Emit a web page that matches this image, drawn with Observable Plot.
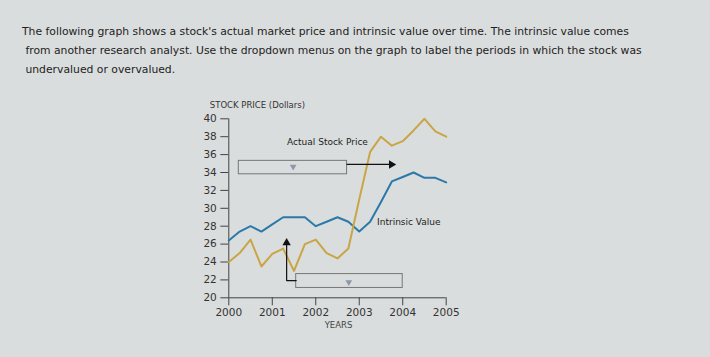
<!DOCTYPE html>
<html>
<head>
<meta charset="utf-8">
<script src="https://cdn.jsdelivr.net/npm/d3@7"></script>
<script src="https://cdn.jsdelivr.net/npm/@observablehq/plot@0.6"></script>
<style>
  html, body { margin: 0; padding: 0; width: 710px; height: 357px; overflow: hidden; background: #dadddd; }
  #intro { position: absolute; left: 22px; top: 22px; font-family: "DejaVu Sans", sans-serif; font-size: 10.8px; line-height: 19px; color: #222; white-space: nowrap; }
  #chart { position: absolute; left: 0; top: 90px; }
</style>
</head>
<body>
<div id="intro">The following graph shows a stock's actual market price and intrinsic value over time. The intrinsic value comes<br>&nbsp;from another research analyst. Use the dropdown menus on the graph to label the periods in which the stock was<br>&nbsp;undervalued or overvalued.</div>
<div id="chart"></div>
<script>
const years = [2000, 2000.25, 2000.5, 2000.75, 2001, 2001.25, 2001.5, 2001.75, 2002, 2002.25, 2002.5, 2002.75, 2003, 2003.25, 2003.5, 2003.75, 2004, 2004.25, 2004.5, 2004.75, 2005];
const intrinsic = [26.4, 27.4, 28.0, 27.4, 28.2, 29.0, 29.0, 29.0, 28.0, 28.5, 29.0, 28.5, 27.4, 28.5, 30.7, 33.0, 33.5, 34.0, 33.4, 33.4, 32.9];
const actual = [24.0, 25.0, 26.5, 23.5, 24.9, 25.5, 23.0, 26.0, 26.5, 25.0, 24.4, 25.5, 31.0, 36.3, 38.0, 37.0, 37.5, 38.7, 40.0, 38.6, 38.0];
const xTicks = [2000, 2001, 2002, 2003, 2004, 2005];
const yTicks = [20, 22, 24, 26, 28, 30, 32, 34, 36, 38, 40];
const yTitle = "STOCK PRICE (Dollars)";
const xTitle = "YEARS";
const actualLabel = [{text: "Actual Stock Price", x: 2002.27, y: 37.35}];
const intrinsicLabel = [{text: "Intrinsic Value", x: 2003.41, y: 28.45}];
// dropdown boxes (data coords)
const boxes = [
  {x1: 2000.23, x2: 2002.72, y1: 33.8, y2: 35.3, tx: 2001.48, ty: 34.65},
  {x1: 2001.55, x2: 2004.0, y1: 21.1, y2: 22.65, tx: 2002.76, ty: 21.75}
];
const arrow1 = [{x: 2002.72, y: 34.9}, {x: 2003.72, y: 34.9}];
const arrow1Head = [{x: 2003.74, y: 34.9}];
const arrow2 = [{x: 2001.55, y: 21.93}, {x: 2001.33, y: 21.93}, {x: 2001.33, y: 26.0}];
const arrow2Head = [{x: 2001.33, y: 26.15}];

const data = years.map((y, i) => ({year: y, intrinsic: intrinsic[i], actual: actual[i]}));
const blue = "#2c79a9";
const gold = "#c9a545";

const plot = Plot.plot({
  width: 710,
  height: 267,
  marginLeft: 228.3,
  marginRight: 264.3,
  marginTop: 28.3,
  marginBottom: 59.7,
  style: {background: "transparent", fontFamily: "DejaVu Sans, sans-serif", fontSize: "10.5px", color: "#333"},
  x: {domain: [2000, 2005]},
  y: {domain: [20, 40]},
  marks: [
    Plot.ruleX([2000], {y1: 20, y2: 40, stroke: "#444", strokeWidth: 1}),
    Plot.ruleY([20], {x1: 2000, x2: 2005, stroke: "#444", strokeWidth: 1}),
    Plot.axisY({ticks: yTicks, tickSize: 8, tickPadding: 4, label: null, stroke: "#444"}),
    Plot.axisX({ticks: xTicks, tickSize: 8, tickPadding: 3, tickFormat: d => String(d), label: null, stroke: "#444"}),
    Plot.text([yTitle], {frameAnchor: "top-left", dx: -19, dy: -17, textAnchor: "start", fontSize: 8.5, fill: "#333"}),
    Plot.text([xTitle], {frameAnchor: "bottom", dx: 1, dy: 30, fontSize: 8.5, fill: "#444"}),
    Plot.line(data, {x: "year", y: "intrinsic", stroke: blue, strokeWidth: 2}),
    Plot.line(data, {x: "year", y: "actual", stroke: gold, strokeWidth: 2}),
    Plot.rect(boxes, {x1: "x1", x2: "x2", y1: "y1", y2: "y2", fill: "none", stroke: "#777", strokeWidth: 1}),
    Plot.dot(boxes, {x: "tx", y: "ty", symbol: "triangle2", rotate: 180, r: 3.2, fill: "#8d99aa", stroke: "none"}),
    Plot.line(arrow1, {x: "x", y: "y", stroke: "#111", strokeWidth: 1.2}),
    Plot.dot(arrow1Head, {x: "x", y: "y", symbol: "triangle2", rotate: 90, r: 4, fill: "#111", stroke: "none"}),
    Plot.line(arrow2, {x: "x", y: "y", stroke: "#111", strokeWidth: 1.2}),
    Plot.dot(arrow2Head, {x: "x", y: "y", symbol: "triangle2", r: 4, fill: "#111", stroke: "none"}),
    Plot.text(actualLabel, {x: "x", y: "y", text: "text", textAnchor: "middle", fontSize: 9, fill: "#222"}),
    Plot.text(intrinsicLabel, {x: "x", y: "y", text: "text", textAnchor: "start", fontSize: 9, fill: "#222"})
  ]
});
document.getElementById("chart").appendChild(plot);
</script>
</body>
</html>
